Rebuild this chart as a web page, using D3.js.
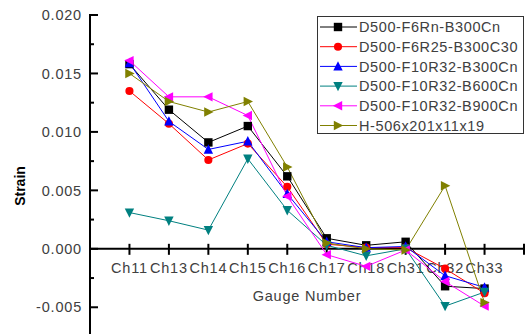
<!DOCTYPE html>
<html>
<head>
<meta charset="utf-8">
<script src="https://cdn.jsdelivr.net/npm/d3@7"></script>
<style>
  body { margin: 0; background: #fff; }
  svg { display: block; font-family: Arial, "Liberation Sans", sans-serif; }
</style>
</head>
<body>
<div id="chart"></div>
<script>
const gauges = ["Ch11", "Ch13", "Ch14", "Ch15", "Ch16", "Ch17", "Ch18", "Ch31", "Ch32", "Ch33"];
const yTicks = [-0.005, 0.000, 0.005, 0.010, 0.015, 0.020];

const f6rnB300 = [0.0158, 0.0119, 0.0091, 0.0105, 0.0062, 0.0009, 0.0003, 0.0006, -0.0032, -0.0034];
const f6r25B300 = [0.0135, 0.0107, 0.0076, 0.0090, 0.0053, 0.0004, 0.0001, 0.0001, -0.0017, -0.0038];
const f10r32B300 = [0.0159, 0.0109, 0.0085, 0.0092, 0.0047, 0.0006, 0.0001, 0.0002, -0.0023, -0.0033];
const f10r32B600 = [0.0031, 0.0024, 0.0016, 0.0077, 0.0033, 0.0003, -0.0006, 0.0000, -0.0049, -0.0037];
const f10r32B900 = [0.0161, 0.0130, 0.0130, 0.0114, 0.0045, -0.0005, -0.0015, -0.0001, -0.0028, -0.0049];
const hSection = [0.0150, 0.0126, 0.0117, 0.0126, 0.0070, 0.0005, 0.0000, -0.0001, 0.0054, -0.0046];

const series = [
  { name: "D500-F6Rn-B300Cn", values: f6rnB300, color: "#000000", symbol: "square" },
  { name: "D500-F6R25-B300C30", values: f6r25B300, color: "#ff0000", symbol: "circle" },
  { name: "D500-F10R32-B300Cn", values: f10r32B300, color: "#0000ff", symbol: "up" },
  { name: "D500-F10R32-B600Cn", values: f10r32B600, color: "#008080", symbol: "down" },
  { name: "D500-F10R32-B900Cn", values: f10r32B900, color: "#ff00ff", symbol: "left" },
  { name: "H-506x201x11x19", values: hSection, color: "#808000", symbol: "right" }
];

const W = 528, H = 334;
const svg = d3.select("#chart").append("svg").attr("width", W).attr("height", H);

const x = d3.scaleLinear().domain([0, gauges.length + 1]).range([90, 524]);
const y = d3.scaleLinear().domain([-0.0075, 0.020]).range([336.5, 15]);

function markerPath(symbol) {
  const s = 4.2;
  if (symbol === "square") return `M${-s},${-s}H${s}V${s}H${-s}Z`;
  if (symbol === "circle") return d3.symbol(d3.symbolCircle, 52)();
  if (symbol === "up") return `M0,${-s - 1}L${s + 0.5},${s}L${-s - 0.5},${s}Z`;
  if (symbol === "down") return `M0,${s + 1}L${s + 0.5},${-s}L${-s - 0.5},${-s}Z`;
  if (symbol === "left") return `M${-s - 1},0L${s},${-s - 0.5}L${s},${s + 0.5}Z`;
  return `M${s + 1},0L${-s},${-s - 0.5}L${-s},${s + 0.5}Z`;
}

// y axis: major ticks inward, minor between
const yAxis = svg.append("g").attr("transform", "translate(90,0)");
yAxis.append("line").attr("x1", 0).attr("x2", 0).attr("y1", y(0.020) - 1).attr("y2", H)
  .attr("stroke", "#000").attr("stroke-width", 2);
yTicks.forEach(t => {
  yAxis.append("line").attr("x1", 0).attr("x2", 8).attr("y1", y(t)).attr("y2", y(t))
    .attr("stroke", "#000").attr("stroke-width", 2);
  yAxis.append("text").attr("x", -8).attr("y", y(t)).attr("dy", "0.36em")
    .attr("text-anchor", "end").attr("fill", "#404040").style("font-size", "14.5px")
    .style("letter-spacing", "0.8px")
    .text(d3.format(".3f")(t).replace("−", "-"));
});
d3.range(-0.0075, 0.020, 0.005).forEach(t => {
  yAxis.append("line").attr("x1", 0).attr("x2", 4).attr("y1", y(t)).attr("y2", y(t))
    .attr("stroke", "#000").attr("stroke-width", 2);
});

// x axis at zero
const xAxis = svg.append("g").attr("transform", `translate(0,${y(0)})`);
xAxis.append("line").attr("x1", x(0)).attr("x2", x(gauges.length + 1))
  .attr("stroke", "#000").attr("stroke-width", 2);
d3.range(1, gauges.length + 2).forEach(i => {
  xAxis.append("line").attr("x1", x(i)).attr("x2", x(i)).attr("y1", -5).attr("y2", 6)
    .attr("stroke", "#000").attr("stroke-width", 2);
});
gauges.forEach((g, i) => {
  xAxis.append("text").attr("x", x(i + 1)).attr("y", 24)
    .attr("text-anchor", "middle").attr("fill", "#404040").style("font-size", "14.5px")
    .style("letter-spacing", "0.8px").text(g);
});

svg.append("text").attr("x", 307).attr("y", 301).attr("text-anchor", "middle")
  .attr("fill", "#404040").style("font-size", "14.5px").style("letter-spacing", "0.8px")
  .text("Gauge Number");
svg.append("text").attr("transform", "translate(25,186) rotate(-90)").attr("text-anchor", "middle")
  .attr("fill", "#000").style("font-size", "14px").style("font-weight", "bold").text("Strain");

// series
const line = d3.line().x((d, i) => x(i + 1)).y(d => y(d));
series.forEach(s => {
  svg.append("path").datum(s.values).attr("d", line)
    .attr("fill", "none").attr("stroke", s.color).attr("stroke-width", 1);
});
series.forEach(s => {
  svg.selectAll(null).data(s.values).join("path")
    .attr("transform", (d, i) => `translate(${x(i + 1)},${y(d)})`)
    .attr("d", markerPath(s.symbol)).attr("fill", s.color);
});

// legend
const legend = svg.append("g");
legend.append("rect").attr("x", 317.5).attr("y", 16.5).attr("width", 206).attr("height", 117)
  .attr("fill", "#fff").attr("stroke", "#333").attr("stroke-width", 1);
series.forEach((s, i) => {
  const ly = 27 + i * 19.7;
  legend.append("line").attr("x1", 320).attr("x2", 357).attr("y1", ly).attr("y2", ly)
    .attr("stroke", s.color).attr("stroke-width", 1);
  legend.append("path").attr("transform", `translate(338,${ly})`)
    .attr("d", markerPath(s.symbol)).attr("fill", s.color);
  legend.append("text").attr("x", 359).attr("y", ly).attr("dy", "0.36em")
    .attr("fill", "#404040").style("font-size", "14.5px").style("letter-spacing", "0.6px")
    .text(s.name);
});
</script>
</body>
</html>
